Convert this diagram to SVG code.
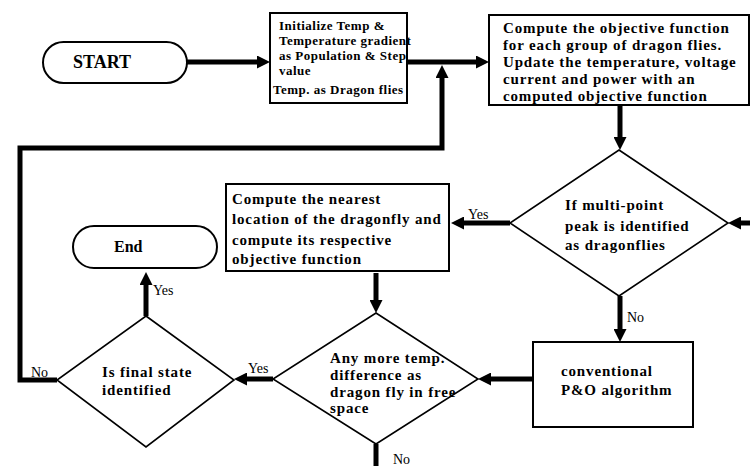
<svg xmlns="http://www.w3.org/2000/svg" width="750" height="466" viewBox="0 0 750 466">
<style>
.t{font-family:"Liberation Serif","Times New Roman",serif;font-weight:bold;fill:#000}
.s13{font-size:13px;letter-spacing:0.5px}
.s15{font-size:15px;letter-spacing:0.85px}
.lbl{font-family:"Liberation Serif","Times New Roman",serif;font-size:14px;fill:#000}
.box{fill:#fff;stroke:#000;stroke-width:2}
.dia{fill:#fff;stroke:#000;stroke-width:1.6}
.conn{fill:none;stroke:#000;stroke-width:5}
</style>
<defs>
<marker id="ah" viewBox="0 0 10 10" refX="0" refY="5" markerWidth="13" markerHeight="13" markerUnits="userSpaceOnUse" orient="auto">
<path d="M0,0 L10,5 L0,10 z" fill="#000"/>
</marker>
</defs>
<rect width="750" height="466" fill="#fff"/>
<g id="connectors">
<path class="conn" d="M187,62 H257" marker-end="url(#ah)"/>
<path class="conn" d="M407,62 H476" marker-end="url(#ah)"/>
<path class="conn" d="M57,380 H20 V148 H442 V78" marker-end="url(#ah)"/>
<path class="conn" d="M620,105 V137" marker-end="url(#ah)"/>
<path class="conn" d="M752,223 H741" marker-end="url(#ah)"/>
<path class="conn" d="M510,223 H464" marker-end="url(#ah)"/>
<path class="conn" d="M376,273 V300" marker-end="url(#ah)"/>
<path class="conn" d="M620,296 V329" marker-end="url(#ah)"/>
<path class="conn" d="M533,379 H491" marker-end="url(#ah)"/>
<path class="conn" d="M273,379 H247" marker-end="url(#ah)"/>
<path class="conn" d="M146,316 V285" marker-end="url(#ah)"/>
<path class="conn" d="M376,444 V466"/>
<text class="lbl" x="468" y="219">Yes</text>
<text class="lbl" x="627" y="322">No</text>
<text class="lbl" x="248" y="373">Yes</text>
<text class="lbl" x="153" y="295">Yes</text>
<text class="lbl" x="31" y="377">No</text>
<text class="lbl" x="393" y="464">No</text>
</g>
<g id="start">
<rect class="box" x="43" y="42" width="144" height="41" rx="20.5" stroke-width="1.6"/>
<text class="t" x="73" y="68" font-size="18">START</text>
</g>
<g id="init">
<rect class="box" x="270" y="13" width="137" height="90"/>
<text class="t s13" x="279" y="30">Initialize Temp &amp;</text>
<text class="t s13" x="279" y="45">Temperature gradient</text>
<text class="t s13" x="279" y="60">as Population &amp; Step</text>
<text class="t s13" x="279" y="75">value</text>
<text class="t s13" x="273" y="94">Temp. as Dragon flies</text>
</g>
<g id="compute">
<rect class="box" x="489" y="15" width="260" height="90"/>
<text class="t s15" x="503" y="33" letter-spacing="1.4">Compute the objective function</text>
<text class="t s15" x="503" y="50" letter-spacing="1.4">for each group of dragon flies.</text>
<text class="t s15" x="503" y="67" letter-spacing="1.4">Update the temperature, voltage</text>
<text class="t s15" x="503" y="84" letter-spacing="1.4">current and power with an</text>
<text class="t s15" x="503" y="101" letter-spacing="1.4">computed objective function</text>
</g>
<g id="multipoint">
<polygon class="dia" points="619,150 728,223 619,296 510,223"/>
<text class="t s15" x="565" y="210">If multi-point</text>
<text class="t s15" x="565" y="231">peak is identified</text>
<text class="t s15" x="565" y="250">as dragonflies</text>
</g>
<g id="nearest">
<rect class="box" x="226" y="184" width="223" height="87" stroke-width="4.5"/>
<text class="t s15" x="232" y="204">Compute the nearest</text>
<text class="t s15" x="232" y="224">location of the dragonfly and</text>
<text class="t s15" x="232" y="245">compute its respective</text>
<text class="t s15" x="232" y="264">objective function</text>
</g>
<g id="po">
<rect class="box" x="533" y="342" width="160" height="85"/>
<text class="t s15" x="561" y="376">conventional</text>
<text class="t s15" x="561" y="395">P&amp;O algorithm</text>
</g>
<g id="anymore">
<polygon class="dia" points="376,313 478,379 376,444 273,379"/>
<text class="t s15" x="330" y="363" letter-spacing="0.6">Any more temp.</text>
<text class="t s15" x="330" y="380" letter-spacing="0.6">difference as</text>
<text class="t s15" x="330" y="397" letter-spacing="0.6">dragon fly in free</text>
<text class="t s15" x="330" y="413" letter-spacing="0.6">space</text>
</g>
<g id="final">
<polygon class="dia" points="146,316 234,380 146,447 57,380"/>
<text class="t s15" x="102" y="377">Is final state</text>
<text class="t s15" x="102" y="395">identified</text>
</g>
<g id="end">
<rect class="box" x="73" y="226" width="144" height="42" rx="21" stroke-width="1.6"/>
<text class="t" x="114" y="252" font-size="16">End</text>
</g>
</svg>
